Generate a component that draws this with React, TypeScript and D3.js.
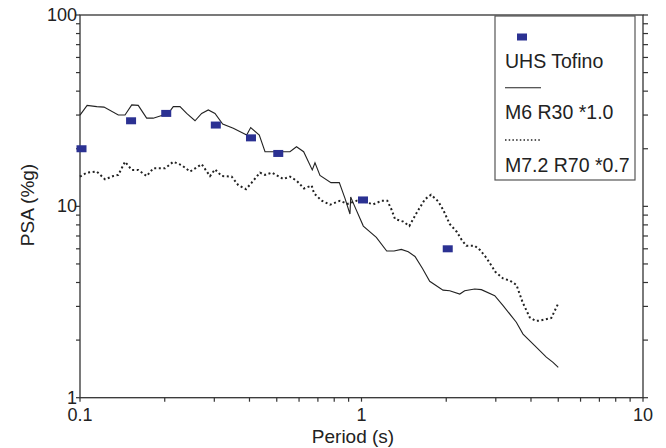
import React, { useEffect, useRef } from "react";
import * as d3 from "d3";

// UHS Tofino (uniform hazard spectrum points)
const uhsPeriod = [0.1, 0.15, 0.2, 0.3, 0.4, 0.5, 1.0, 2.0];
const uhsPsa = [20, 28, 30.6, 26.6, 22.8, 18.9, 10.8, 6.0];

// M6 R30 *1.0 (solid)
const m6Period = [
  0.1, 0.106, 0.1147, 0.1217, 0.1368, 0.1445, 0.1527, 0.161, 0.1725, 0.182,
  0.1977, 0.206, 0.2145, 0.2266, 0.2393, 0.2562, 0.2705, 0.2856, 0.3017, 0.3212,
  0.3504, 0.391, 0.404, 0.4334, 0.4542, 0.557, 0.5876, 0.623, 0.6685, 0.6835,
  0.712, 0.7791, 0.834, 0.8737, 0.91, 0.9155, 0.935, 1.015, 1.129, 1.229,
  1.305, 1.385, 1.466, 1.549, 1.647, 1.747, 1.948, 2.057, 2.234, 2.326,
  2.524, 2.665, 2.974, 3.184, 3.548, 3.748, 4.124, 4.535, 4.79, 5.0,
];
const m6Psa = [
  30.0, 33.7, 33.2, 33.0, 30.0, 30.0, 33.9, 33.7, 28.9, 28.9,
  30.0, 30.6, 33.2, 33.2, 30.6, 28.0, 30.6, 31.9, 30.6, 26.9,
  25.6, 23.6, 25.8, 23.6, 19.3, 19.3, 20.5, 19.3, 15.5, 16.9,
  14.5, 13.3, 13.3, 11.0, 9.12, 11.2, 10.4, 7.89, 6.89, 5.84,
  5.84, 5.96, 5.79, 5.47, 4.73, 4.06, 3.65, 3.62, 3.48, 3.62,
  3.7, 3.67, 3.41, 3.03, 2.48, 2.15, 1.87, 1.63, 1.53, 1.44,
];

// M7.2 R70 *0.7 (dotted)
const m72Period = [
  0.1, 0.1056, 0.1147, 0.1227, 0.1313, 0.1368, 0.1445, 0.1527, 0.161, 0.1725,
  0.182, 0.2005, 0.2145, 0.2298, 0.246, 0.2705, 0.2896, 0.3017, 0.3187, 0.3458,
  0.365, 0.3889, 0.4074, 0.4359, 0.4542, 0.4797, 0.5275, 0.557, 0.5886, 0.6248,
  0.6654, 0.678, 0.7224, 0.7731, 0.8387, 0.8918, 0.9614, 1.015, 1.101, 1.18,
  1.235, 1.28, 1.315, 1.408, 1.479, 1.571, 1.681, 1.766, 1.875, 1.952,
  2.057, 2.179, 2.27, 2.357, 2.524, 2.636, 2.781, 2.992, 3.184, 3.37,
  3.553, 3.733, 3.958, 4.15, 4.306, 4.724, 5.0,
];
const m72Psa = [
  14.3, 15.0, 15.2, 13.85, 14.4, 14.6, 17.1, 15.5, 15.5, 14.4,
  15.8, 15.8, 17.1, 16.4, 15.2, 16.6, 14.4, 15.6, 14.4, 14.3,
  12.9, 12.3, 13.3, 15.0, 14.6, 15.0, 13.9, 14.3, 13.6, 12.4,
  12.85, 11.7, 10.7, 10.2, 10.7, 10.3, 10.7, 10.6, 10.25, 10.7,
  10.7, 9.57, 8.59, 8.32, 7.89, 9.27, 10.9, 11.5, 10.6, 9.57,
  8.09, 7.37, 6.67, 6.23, 6.23, 5.91, 5.37, 4.54, 4.2, 4.09,
  3.88, 3.16, 2.63, 2.52, 2.53, 2.61, 3.11,
];

const xLabels = [0.1, 1, 10];
const yLabels = [1, 10, 100];
const legendNames = ["UHS Tofino", "M6 R30 *1.0", "M7.2 R70 *0.7"];

const W = 666;
const H = 448;
const FONT = "'Liberation Sans', Arial, sans-serif";
const INK = "#222";
const BLUE = "#2B3192";

const App = () => {
  const ref = useRef<SVGSVGElement | null>(null);

  useEffect(() => {
    if (!ref.current) return;
    const svg = d3.select(ref.current);
    svg.selectAll("*").remove();

    const left = 80, right = 643, top = 15, bottom = 397.7;
    const x = d3.scaleLog().domain([0.1, 10]).range([left, right]);
    const y = d3.scaleLog().domain([1, 100]).range([bottom, top]);

    // ticks
    const axisG = svg.append("g").attr("stroke", "#333").attr("stroke-width", 1.2);
    y.ticks().forEach((v) => {
      axisG.append("line").attr("x1", left - 4).attr("x2", left).attr("y1", y(v)).attr("y2", y(v));
      axisG.append("line").attr("x1", right).attr("x2", right + 5).attr("y1", y(v)).attr("y2", y(v));
    });
    x.ticks().forEach((v) => {
      axisG.append("line").attr("x1", x(v)).attr("x2", x(v)).attr("y1", bottom).attr("y2", bottom + 4);
    });

    // frame
    svg.append("rect")
      .attr("x", left).attr("y", top)
      .attr("width", right - left).attr("height", bottom - top)
      .attr("fill", "none").attr("stroke", "#333").attr("stroke-width", 1.3);

    // tick labels
    yLabels.forEach((v) => {
      svg.append("text")
        .attr("x", 77).attr("y", y(v))
        .attr("text-anchor", "end").attr("dominant-baseline", "central")
        .attr("font-family", FONT).attr("font-size", 18).attr("fill", INK)
        .text(String(v));
    });
    xLabels.forEach((v) => {
      svg.append("text")
        .attr("x", x(v)).attr("y", 421)
        .attr("text-anchor", "middle")
        .attr("font-family", FONT).attr("font-size", 18).attr("fill", INK)
        .text(String(v));
    });

    // axis titles
    svg.append("text")
      .attr("x", 353).attr("y", 443)
      .attr("text-anchor", "middle")
      .attr("font-family", FONT).attr("font-size", 19).attr("fill", INK)
      .text("Period (s)");
    svg.append("text")
      .attr("transform", "translate(34,205) rotate(-90)")
      .attr("text-anchor", "middle")
      .attr("font-family", FONT).attr("font-size", 19).attr("fill", INK)
      .text("PSA (%g)");

    const line = d3.line<[number, number]>().x((d) => x(d[0])).y((d) => y(d[1]));

    const m6: [number, number][] = m6Period.map((p, i) => [p, m6Psa[i]]);
    const m72: [number, number][] = m72Period.map((p, i) => [p, m72Psa[i]]);

    svg.append("path")
      .datum(m72).attr("d", line)
      .attr("fill", "none").attr("stroke", INK)
      .attr("stroke-width", 2).attr("stroke-dasharray", "2,2.6");

    svg.append("path")
      .datum(m6).attr("d", line)
      .attr("fill", "none").attr("stroke", INK).attr("stroke-width", 1.1);

    // UHS squares
    uhsPeriod.forEach((p, i) => {
      svg.append("rect")
        .attr("x", x(p) - 5 + 1.5).attr("y", y(uhsPsa[i]) - 3.5)
        .attr("width", 10).attr("height", 7)
        .attr("fill", BLUE);
    });

    // legend
    const lg = svg.append("g");
    lg.append("rect")
      .attr("x", 495).attr("y", 16).attr("width", 140).attr("height", 164)
      .attr("fill", "white").attr("stroke", "#555").attr("stroke-width", 1.2);
    lg.append("rect")
      .attr("x", 517).attr("y", 33.5).attr("width", 10).attr("height", 7).attr("fill", BLUE);
    lg.append("line")
      .attr("x1", 505).attr("x2", 541).attr("y1", 87.7).attr("y2", 87.7)
      .attr("stroke", INK).attr("stroke-width", 1.1);
    lg.append("line")
      .attr("x1", 505).attr("x2", 540).attr("y1", 140).attr("y2", 140)
      .attr("stroke", INK).attr("stroke-width", 1.5).attr("stroke-dasharray", "1.5,2.2");
    [68, 119.3, 171.5].forEach((by, i) => {
      lg.append("text")
        .attr("x", 505).attr("y", by)
        .attr("font-family", FONT).attr("font-size", 19.5).attr("fill", INK)
        .text(legendNames[i]);
    });
  }, []);

  return (
    <svg
      ref={ref}
      width={W}
      height={H}
      style={{ position: "absolute", left: 0, top: 0, background: "white" }}
    />
  );
};

export default App;
